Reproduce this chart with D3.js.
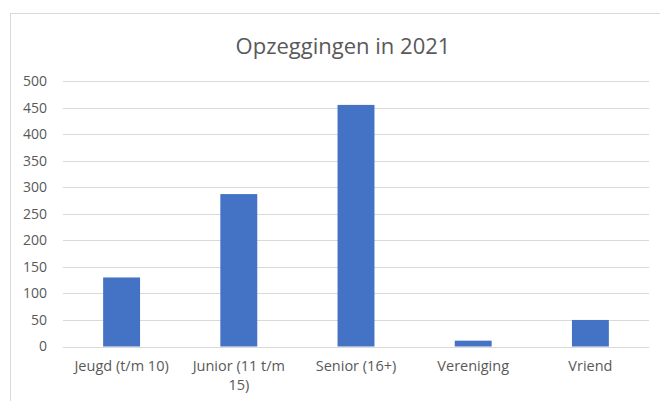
<!DOCTYPE html>
<html>
<head>
<meta charset="utf-8">
<script src="https://cdn.jsdelivr.net/npm/d3@7"></script>
<style>
  body { margin: 0; background: #fff; }
  #chart { width: 660px; height: 401px; }
  text { font-family: "Open Sans", "Noto Sans", sans-serif; fill: #595959; }
</style>
</head>
<body>
<div id="chart"></div>
<script>
// data
var categories = ["Jeugd (t/m 10)", "Junior (11 t/m 15)", "Senior (16+)", "Vereniging", "Vriend"];
var values = [130, 287, 455, 11, 50];
var yTicks = [0, 50, 100, 150, 200, 250, 300, 350, 400, 450, 500];
var title = "Opzeggingen in 2021";

var W = 660, H = 401;
var margin = { top: 81, right: 11, bottom: 55, left: 63 };
var width = W - margin.left - margin.right,
  height = 346.5 - margin.top;

var svg = d3.select("#chart").append("svg")
  .attr("width", W)
  .attr("height", H);

// chart area border
svg.append("rect")
  .attr("x", 10.5).attr("y", 13.5)
  .attr("width", 700).attr("height", 420)
  .attr("fill", "none")
  .attr("stroke", "#d9d9d9")
  .attr("stroke-width", 1);

svg.append("text")
  .attr("x", 343).attr("y", 54)
  .attr("text-anchor", "middle")
  .style("font-size", "22px")
  .text(title);

var g = svg.append("g")
  .attr("transform", "translate(" + margin.left + "," + margin.top + ")");

var x = d3.scaleBand()
  .domain(categories)
  .range([0, width])
  .paddingInner(0.685)
  .paddingOuter(0.3425);

var y = d3.scaleLinear()
  .domain([0, 500])
  .range([height, 0]);

// gridlines
g.append("g")
  .selectAll("line")
  .data(yTicks)
  .enter().append("line")
  .attr("x1", 0).attr("x2", width)
  .attr("y1", function (d) { return Math.round(y(d)) + 0.5; })
  .attr("y2", function (d) { return Math.round(y(d)) + 0.5; })
  .attr("stroke", "#d9d9d9");

// y axis labels
var yAxis = g.append("g")
  .call(d3.axisLeft(y).tickValues(yTicks).tickSize(0).tickPadding(16));
yAxis.select(".domain").remove();
yAxis.selectAll("text").style("font-size", "14px").attr("fill", "#595959");

// bars
g.append("g")
  .selectAll("rect")
  .data(values)
  .enter().append("rect")
  .attr("x", function (d, i) { return x(categories[i]); })
  .attr("width", x.bandwidth())
  .attr("y", function (d) { return y(d); })
  .attr("height", function (d) { return height - y(d); })
  .attr("fill", "#4472c4");

// x axis labels
var xAxis = g.append("g")
  .attr("transform", "translate(0," + height + ")")
  .call(d3.axisBottom(x).tickSize(0).tickPadding(14));
xAxis.select(".domain").remove();
xAxis.selectAll("text")
  .style("font-size", "14.5px")
  .attr("fill", "#595959")
  .call(wrap, 108);

function wrap(texts, maxW) {
  texts.each(function () {
    var text = d3.select(this),
      words = text.text().split(/\s+/),
      yPos = text.attr("y"),
      dy = parseFloat(text.attr("dy")),
      line = [],
      lineNo = 0,
      tspan = text.text(null).append("tspan").attr("x", 0).attr("y", yPos).attr("dy", dy + "em");
    words.forEach(function (w) {
      line.push(w);
      tspan.text(line.join(" "));
      if (tspan.node().getComputedTextLength() > maxW && line.length > 1) {
        line.pop();
        tspan.text(line.join(" "));
        line = [w];
        lineNo++;
        tspan = text.append("tspan").attr("x", 0).attr("y", yPos)
          .attr("dy", (lineNo * 1.3 + dy) + "em").text(w);
      }
    });
  });
}
</script>
</body>
</html>
